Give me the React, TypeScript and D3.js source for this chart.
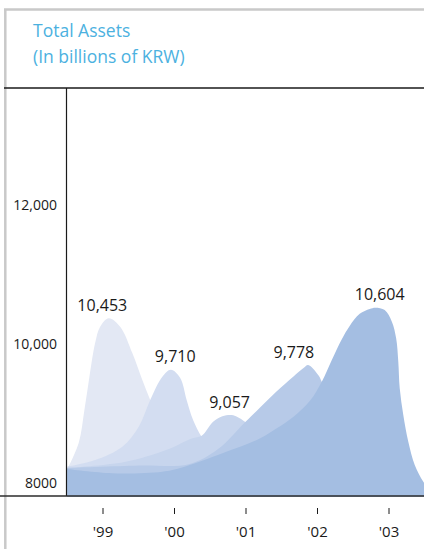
import React from "react";
import * as d3 from "d3";

const W = 424;
const H = 549;

const YEARS = [1999, 2000, 2001, 2002, 2003];
const YEAR_LABELS = ["'99", "'00", "'01", "'02", "'03"];
const TOTAL_ASSETS = [10453, 9710, 9057, 9778, 10604];
const PEAK_YEAR = [1999.08, 1999.95, 2000.8, 2001.87, 2002.81];
const LABEL_YEAR = [1998.99, 2000.01, 2000.77, 2001.67, 2002.87];
const Y_TICKS = [8000, 10000, 12000];
const Y_TICK_LABELS = ["8000", "10,000", "12,000"];
const BASE_VALUE = 7880;

// outline of each decorative bump: [year, value] before and after its peak
const RISE_99 = [[1998.5, 8276], [1998.66, 8655], [1998.74, 9130], [1998.81, 9610], [1998.89, 10095], [1998.96, 10330]];
const FALL_99 = [[1999.24, 10330], [1999.41, 9951], [1999.55, 9562], [1999.66, 9274], [1999.9, 8680], [2000.2, 8330], [2000.6, 8240]];

const RISE_00 = [[1998.5, 8314], [1998.89, 8410], [1999.27, 8602], [1999.5, 8890], [1999.66, 9274], [1999.83, 9610]];
const FALL_00 = [[2000.08, 9591], [2000.17, 9274], [2000.26, 8986], [2000.38, 8742], [2000.6, 8450], [2000.9, 8300]];

const RISE_01 = [[1998.5, 8295], [1999.3, 8380], [1999.9, 8560], [2000.24, 8720], [2000.38, 8760], [2000.54, 8962], [2000.67, 9040]];
const FALL_01 = [[2000.88, 9030], [2000.99, 8958], [2001.25, 8750], [2001.6, 8500], [2001.9, 8400]];

const RISE_02 = [[1998.5, 8295], [1999.5, 8330], [2000.2, 8350], [2000.6, 8560], [2000.99, 8958], [2001.2, 9170], [2001.43, 9400], [2001.66, 9610], [2001.8, 9731]];
const FALL_02 = [[2002.01, 9634], [2002.06, 9538], [2002.25, 9100], [2002.6, 8600], [2003.0, 8400]];

const RISE_03 = [[1998.5, 8280], [1999.13, 8219], [1999.83, 8242], [2000.08, 8295], [2000.68, 8511], [2001.2, 8723], [2001.43, 8867], [2001.66, 9030], [2001.9, 9270], [2002.06, 9538], [2002.2, 9850], [2002.34, 10150], [2002.45, 10340], [2002.59, 10515], [2002.73, 10585]];
const FALL_03 = [[2002.94, 10570], [2003.04, 10402], [2003.1, 10163], [2003.13, 9826], [2003.15, 9443], [2003.2, 9058], [2003.27, 8674], [2003.36, 8338], [2003.48, 8098], [2003.6, 7950]];

const RISES = [RISE_99, RISE_00, RISE_01, RISE_02, RISE_03];
const FALLS = [FALL_99, FALL_00, FALL_01, FALL_02, FALL_03];
const FILLS = ["#e3e8f4", "#d3ddf1", "#c7d5ed", "#b7cae8", "#a4bee2"];

const FONT = "'Open Sans', 'Noto Sans', sans-serif";

export default function App() {
  const x = d3.scaleLinear().domain([1999, 2003]).range([103, 389]);
  const y = d3.scaleLinear().domain([8000, 12000]).range([488.5, 210.7]);

  const area = d3
    .area<number[]>()
    .x((d) => x(d[0]))
    .y0(y(BASE_VALUE))
    .y1((d) => y(d[1]))
    .curve(d3.curveCatmullRom.alpha(0.5));

  const shapes = YEARS.map((_, i) => [
    ...RISES[i],
    [PEAK_YEAR[i], TOTAL_ASSETS[i]],
    ...FALLS[i],
  ]);

  const fmt = d3.format(",");
  const axisX = 66.5;
  const topY = 88;
  const baseY = 496;

  return (
    <svg
      width={W}
      height={H}
      style={{ position: "absolute", left: 0, top: 0, background: "#fff" }}
      fontFamily={FONT}
    >
      {/* frame */}
      <line x1={4} x2={W} y1={9.5} y2={9.5} stroke="#c9c9c9" strokeWidth={2.5} />
      <line x1={5.3} x2={5.3} y1={9} y2={H} stroke="#c9c9c9" strokeWidth={2.5} />

      {/* title */}
      <text x={33} y={36.5} fill="#4cb1df" fontSize={17.5}>
        Total Assets
      </text>
      <text x={33} y={62.5} fill="#4cb1df" fontSize={17.5}>
        (In billions of KRW)
      </text>

      {/* areas */}
      {shapes.map((s, i) => (
        <path key={i} d={area(s) || ""} fill={FILLS[i]} />
      ))}

      {/* axes lines */}
      <line x1={4} x2={W} y1={topY} y2={topY} stroke="#1a1a1a" strokeWidth={1.3} />
      <line x1={axisX} x2={axisX} y1={topY} y2={baseY} stroke="#1a1a1a" strokeWidth={1.2} />
      <line x1={0} x2={W} y1={baseY} y2={baseY} stroke="#2b2b2b" strokeWidth={1.4} />

      {/* y tick labels */}
      {Y_TICKS.map((t, i) => (
        <text key={t} x={57} y={y(t) - 1} textAnchor="end" fontSize={14} fill="#1a1a1a">
          {Y_TICK_LABELS[i]}
        </text>
      ))}

      {/* x ticks */}
      {YEARS.map((yr, i) => (
        <g key={yr}>
          <line x1={x(yr)} x2={x(yr)} y1={508} y2={514} stroke="#1a1a1a" strokeWidth={1} />
          <text x={x(yr)} y={537} textAnchor="middle" fontSize={15} fill="#1a1a1a">
            {YEAR_LABELS[i]}
          </text>
        </g>
      ))}

      {/* value labels */}
      {TOTAL_ASSETS.map((v, i) => (
        <text
          key={i}
          x={x(LABEL_YEAR[i])}
          y={y(v) - 7.5}
          textAnchor="middle"
          fontSize={16}
          fill="#1a1a1a"
        >
          {fmt(v)}
        </text>
      ))}
    </svg>
  );
}
